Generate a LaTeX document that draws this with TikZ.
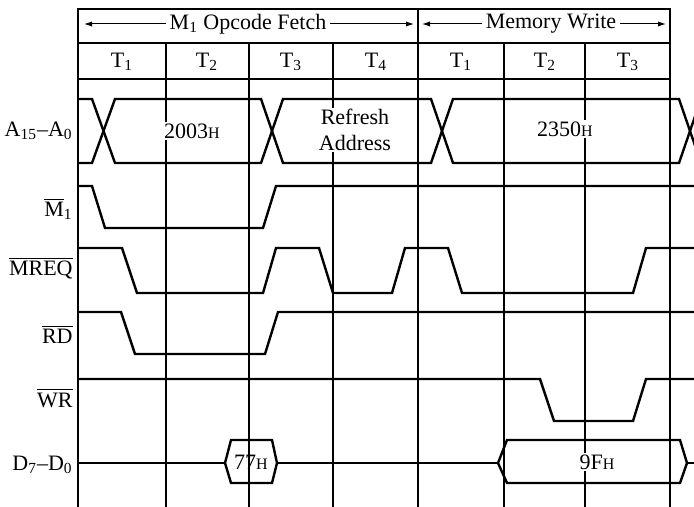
\documentclass[tikz,border=0pt]{standalone}
\usepackage{fontspec}
\setmainfont{Liberation Serif}
\usetikzlibrary{arrows.meta,positioning,calc}

\newcommand{\hx}{{\fontsize{8}{8}\selectfont H}}
\newcommand{\ovl}[1]{$\overline{\hbox{#1}}$}

\begin{document}
\begin{tikzpicture}[x=0.5pt,y=-0.5pt,
    every node/.style={font=\fontsize{11}{13}\selectfont},
    grid/.style={line width=0.6pt},
    wave/.style={line width=1.2pt,line join=miter},
    sig/.style={anchor=east,inner sep=0pt},
    val/.style={fill=white,inner sep=1pt,align=center},
    arr/.style={-{Latex[length=4pt,width=2.6pt]},line width=0.5pt}
  ]
    \clip (0,0) rectangle (694,507);

    % frame and cycle grid
    \draw[grid] (78,507) -- (78,9) -- (670,9) -- (670,507);
    \draw[grid] (78,43) -- (670,43);
    \draw[grid] (78,79) -- (670,79);
    \draw[grid] (418,9) -- (418,507);
    \foreach \x in {166,249,333,504,585}
      \draw[grid] (\x,43) -- (\x,507);

    % machine cycles
    \node[inner sep=1.5pt] (fetch) at (248,24) {M\textsubscript{1} Opcode Fetch};
    \node[inner sep=1.5pt] (write) at (551,24) {Memory Write};
    \coordinate (fetchL) at (84,24);
    \coordinate (fetchR) at (414,24);
    \coordinate (writeL) at (422,24);
    \coordinate (writeR) at (666,24);
    \draw[arr] (fetch) -- (fetchL);
    \draw[arr] (fetch) -- (fetchR);
    \draw[arr] (write) -- (writeL);
    \draw[arr] (write) -- (writeR);

    % T states
    \foreach \x/\t in {122/1,207/2,291/3,376/4,461/1,545/2,628/3}
      \node (t\x) at (\x,62) {T\textsubscript{\t}};

    % signal names
    \node[sig] (addr) at (73,131) {A\textsubscript{15}--A\textsubscript{0}};
    \node[sig] (mone) at (73,209) {\ovl{M}\textsubscript{1}};
    \node[sig] (mreq) at (73,268) {\ovl{MREQ}};
    \node[sig] (rd) at (73,334) {\ovl{RD}};
    \node[sig] (wr) at (73,398) {\ovl{WR}};
    \node[sig] (data) at (73,465) {D\textsubscript{7}--D\textsubscript{0}};

    % address bus
    \draw[wave] (79,99) -- (92,99) -- (115,163) -- (261,163) -- (283,99) -- (431,99)
      -- (453,163) -- (679,163) -- (701,99);
    \draw[wave] (79,163) -- (92,163) -- (115,99) -- (261,99) -- (283,163) -- (431,163)
      -- (453,99) -- (679,99) -- (701,163);
    \node[val] (a2003) at (192,131) {2003\hx};
    \node[val,inner sep=0.5pt] (refresh) at (355,130) {Refresh\\Address};
    \node[val] (a2350) at (565,129) {2350\hx};

    % control lines
    \draw[wave] (79,186) -- (92,186) -- (105,228) -- (263,228) -- (276,186) -- (694,186);
    \draw[wave] (79,248) -- (122,248) -- (137,293) -- (263,293) -- (276,248) -- (319,248)
      -- (333,293) -- (392,293) -- (405,248) -- (448,248) -- (462,293) -- (633,293)
      -- (646,248) -- (694,248);
    \draw[wave] (79,312) -- (121,312) -- (135,354) -- (265,354) -- (278,312) -- (694,312);
    \draw[wave] (79,379) -- (540,379) -- (554,421) -- (633,421) -- (646,379) -- (694,379);

    % data bus
    \draw[wave] (79,463) -- (225,463);
    \draw[wave] (225,463) -- (231,440) -- (272,440) -- (277,463) -- (272,483) -- (231,483) -- cycle;
    \draw[wave] (277,463) -- (498,463);
    \draw[wave] (498,463) -- (507,440) -- (680,440) -- (687,463) -- (680,483) -- (507,483) -- cycle;
    \draw[wave] (687,463) -- (694,463);
    \node[inner sep=1pt] (d77) at (251,462) {77\hx};
    \node[val] (d9f) at (597,462) {9F\hx};
  \end{tikzpicture}
\end{document}
